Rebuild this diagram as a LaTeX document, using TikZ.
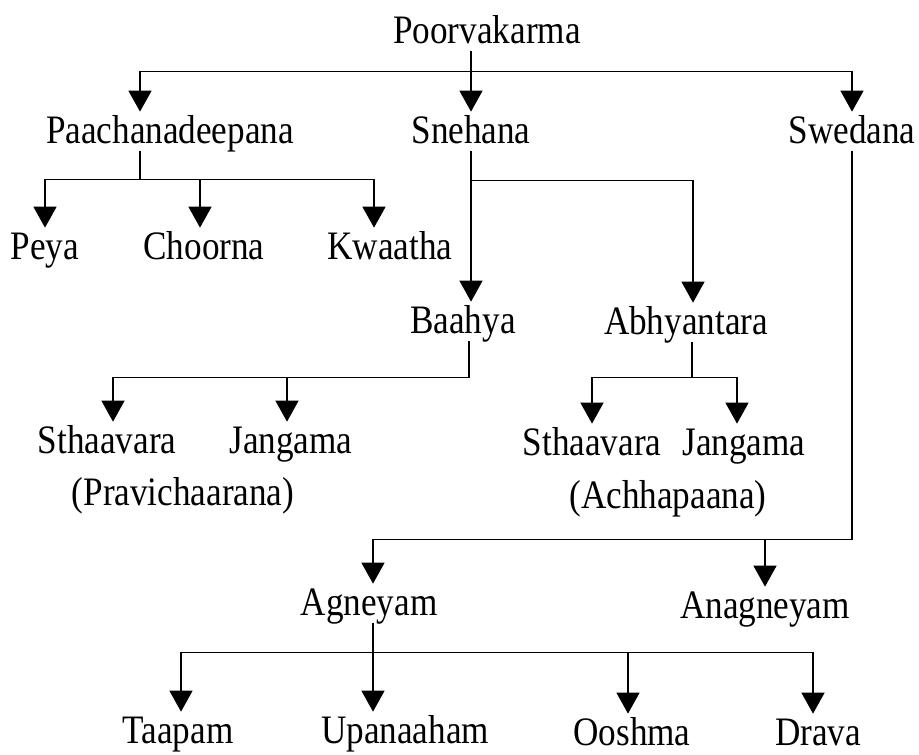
\documentclass[tikz,border=0pt]{standalone}
\usepackage{fontspec}
\setmainfont{Liberation Serif}[FakeStretch=0.87]
\usetikzlibrary{calc,arrows.meta}

\begin{document}
\begin{tikzpicture}[x=0.02cm,y=-0.02cm,>={Triangle[width=0.46cm,length=0.42cm]},
  lbl/.style={anchor=base,inner sep=0pt,text height=0.62cm,text depth=0.16cm,
    font=\fontsize{23pt}{28pt}\selectfont},
  link/.style={->,line width=0.8pt}]
  \useasboundingbox (0,0) rectangle (919,754);
  % Levels one and two
  \node[lbl] (poorva) at (487,43) {Poorvakarma};
  \node[lbl] (paach) at (170,143) {Paachanadeepana};
  \node[lbl] (sneh) at (471,143) {Snehana};
  \node[lbl] (swed) at (852,143) {Swedana};
  \draw[link] (sneh.north |- poorva.south) -- (sneh.north);
  \draw[link] (sneh.north |- poorva.south) -- ++(0,20) -| ($(paach.north)+(-30,0)$);
  \draw[link] (sneh.north |- poorva.south) -- ++(0,20) -| (swed.north);
  % Paachanadeepana
  \node[lbl] (peya) at (45,259) {Peya};
  \node[lbl] (choor) at (204,259) {Choorna};
  \node[lbl] (kwaa) at (390,259) {Kwaatha};
  \draw[link] ($(paach.south)+(-30,0)$) -- ++(0,28) -| (peya.north);
  \draw[link] ($(paach.south)+(-30,0)$) -- ++(0,28) -| ($(choor.north)+(-4,0)$);
  \draw[link] ($(paach.south)+(-30,0)$) -- ++(0,28) -| ($(kwaa.north)+(-16,0)$);
  % Snehana
  \node[lbl] (baahya) at (463,333) {Baahya};
  \node[lbl] (abhy) at (686,334) {Abhyantara};
  \draw[link] (sneh.south) -- (sneh.south |- baahya.north);
  \draw[link] (sneh.south) -- ++(0,29) -| ($(abhy.north)+(7,0)$);
  % Baahya
  \node[lbl] (sthL) at (107,453) {Sthaavara};
  \node[lbl] (jangL) at (291,453) {Jangama};
  \node[lbl] (pravi) at (183,505) {(Pravichaarana)};
  \draw[link] ($(baahya.south)+(6,0)$) -- ++(0,36) -| ($(sthL.north)+(6,0)$);
  \draw[link] ($(baahya.south)+(6,0)$) -- ++(0,36) -| ($(jangL.north)+(-4,0)$);
  % Abhyantara
  \node[lbl] (sthR) at (592,455) {Sthaavara};
  \node[lbl] (jangR) at (744,455) {Jangama};
  \node[lbl] (achha) at (668,508) {(Achhapaana)};
  \draw[link] ($(abhy.south)+(6,0)$) -- ++(0,35) -| (sthR.north);
  \draw[link] ($(abhy.south)+(6,0)$) -- ++(0,35) -| ($(jangR.north)+(-7,0)$);
  % Swedana
  \node[lbl] (agn) at (369,615) {Agneyam};
  \node[lbl] (anagn) at (765,618) {Anagneyam};
  \draw[link] (swed.south) -- ++(0,388) -| ($(agn.north)+(4,0)$);
  \draw[link] (swed.south) -- ++(0,388) -| (anagn.north);
  % Agneyam
  \node[lbl] (taap) at (178,743) {Taapam};
  \node[lbl] (upan) at (405,743) {Upanaaham};
  \node[lbl] (oosh) at (632,745) {Ooshma};
  \node[lbl] (drava) at (818,745) {Drava};
  \draw[link] ($(agn.south)+(4,0)$) -- ++(0,29) -| ($(taap.north)+(3,0)$);
  \draw[link] ($(agn.south)+(4,0)$) -- ($(agn.south |- upan.north)+(4,0)$);
  \draw[link] ($(agn.south)+(4,0)$) -- ++(0,29) -| ($(oosh.north)+(-4,0)$);
  \draw[link] ($(agn.south)+(4,0)$) -- ++(0,29) -| ($(drava.north)+(-5,0)$);
\end{tikzpicture}
\end{document}
